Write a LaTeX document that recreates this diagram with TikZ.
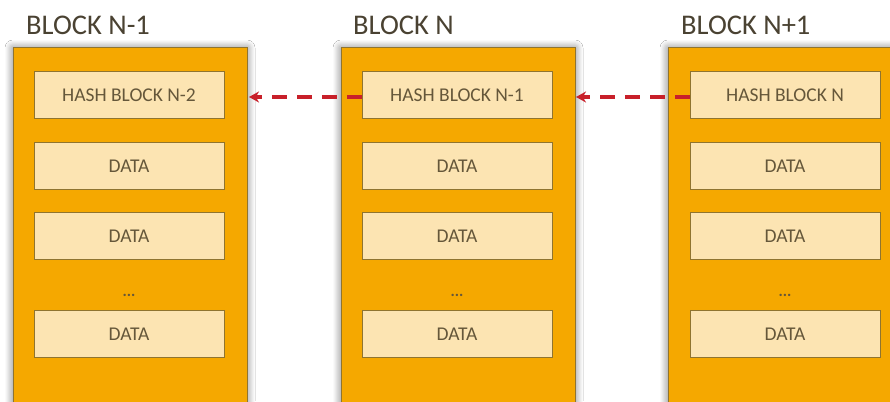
\documentclass[tikz,border=0pt]{standalone}
\usepackage{fontspec}
\setmainfont{Carlito}
\usetikzlibrary{shadows.blur,arrows.meta}
\definecolor{blockfill}{HTML}{F5A800}
\definecolor{blockline}{HTML}{8F7430}
\definecolor{cellfill}{HTML}{FCE4B2}
\definecolor{txt}{HTML}{65573A}
\definecolor{ttl}{HTML}{4A4232}
\definecolor{arr}{HTML}{C8202A}
\tikzset{
  blockbox/.style={draw=blockline, line width=1pt, fill=blockfill, blur shadow={shadow xshift=0pt, shadow yshift=0pt, shadow blur radius=8pt, shadow opacity=55, shadow blur steps=12}},
  cell/.style={draw=blockline, line width=1pt, fill=cellfill, minimum width=190pt, minimum height=47pt, inner sep=0pt, font=\fontsize{19.5}{22}\selectfont, text=txt},
  title/.style={anchor=west, font=\fontsize{28.5}{30}\selectfont, text=ttl, inner sep=0pt},
  dots/.style={font=\bfseries\fontsize{16}{16}\selectfont, text=txt, inner sep=0pt},
  link/.style={draw=arr, line width=3.6pt, dash pattern=on 15pt off 10pt, -{Stealth[length=10pt,width=11pt]}}
}
\begin{document}
\begin{tikzpicture}[x=1pt,y=-1pt]
\useasboundingbox (0,0) rectangle (890,401);
\clip (0,0) rectangle (890,401);
\fill[white] (0,0) rectangle (890,401);
% blocks
\foreach \bx in {13,341,668}{
  \path[blockbox] (\bx,48) rectangle ++(234,380);
}
\node[title] (tA) at (26,25) {BLOCK N-1};
\node[title] (tB) at (353,25) {BLOCK N};
\node[title] (tC) at (681,25) {BLOCK N+1};
% block N-1
\node[cell] (hA) at (129,95) {HASH BLOCK N-2};
\node[cell] (dA1) at (129,166) {DATA};
\node[cell] (dA2) at (129,236) {DATA};
\node[dots] (eA) at (129,295) {...};
\node[cell] (dA3) at (129,334) {DATA};
% block N
\node[cell] (hB) at (457,95) {HASH BLOCK N-1};
\node[cell] (dB1) at (457,166) {DATA};
\node[cell] (dB2) at (457,236) {DATA};
\node[dots] (eB) at (457,295) {...};
\node[cell] (dB3) at (457,334) {DATA};
% block N+1
\node[cell] (hC) at (785,95) {HASH BLOCK N};
\node[cell] (dC1) at (785,166) {DATA};
\node[cell] (dC2) at (785,236) {DATA};
\node[dots] (eC) at (785,295) {...};
\node[cell] (dC3) at (785,334) {DATA};
% links
\coordinate (eAr) at (249,97);
\coordinate (eBr) at (576,97);
\draw[link] (hB.west |- 0,97) -- (eAr);
\draw[link] (hC.west |- 0,97) -- (eBr);
\end{tikzpicture}
\end{document}
